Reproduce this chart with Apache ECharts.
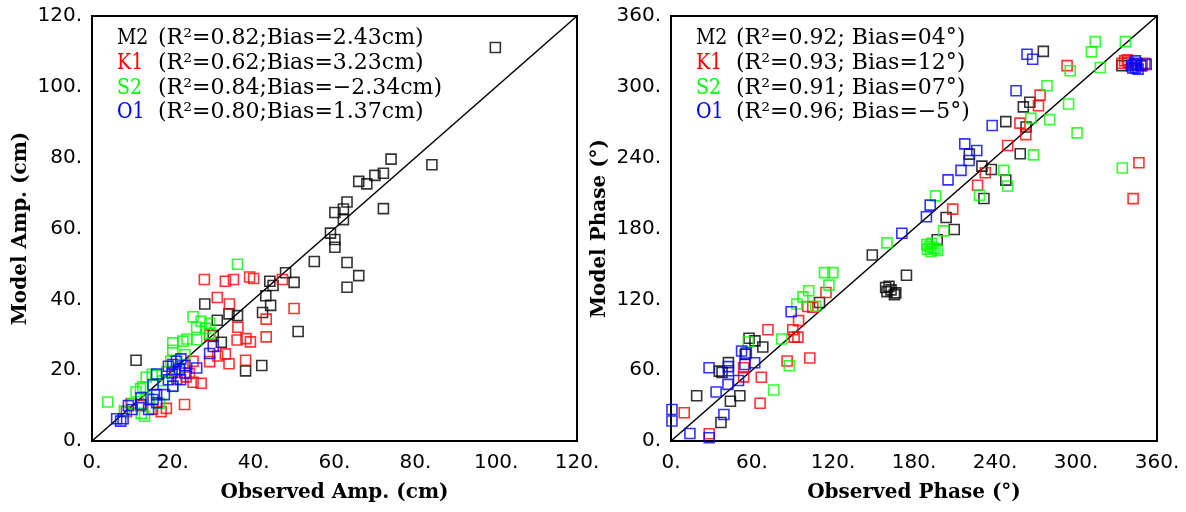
<!DOCTYPE html>
<html>
<head>
<meta charset="utf-8">
<script src="https://cdn.jsdelivr.net/npm/echarts@6/dist/echarts.min.js"></script>
<style>
html,body{margin:0;padding:0;background:#fff;}
#c{width:1186px;height:512px;}
</style>
</head>
<body>
<div id="c"></div>
<script>
// ---------------- DATA ----------------
// Amplitude (cm): [observed, model]
const ampM2 = [[99.8,111.1],[74.0,79.6],[84.1,78.0],[66.0,73.3],[68.0,72.6],[70.0,75.0],[72.1,75.6],[72.1,65.6],[63.1,67.5],[60.1,64.5],[62.2,65.5],[62.2,62.5],[59.0,58.7],[60.1,56.9],[60.1,54.7],[55.0,50.7],[63.1,50.4],[66.0,46.7],[63.1,43.4],[47.9,47.5],[50.0,44.8],[44.0,45.1],[44.8,43.9],[43.0,41.0],[44.2,38.3],[42.2,36.3],[51.0,30.9],[27.9,38.7],[31.0,34.1],[33.9,35.9],[36.0,35.4],[30.0,29.8],[32.0,27.9],[38.0,19.8],[42.0,21.3],[10.9,22.8]];
const ampK1 = [[27.8,45.6],[33.0,45.1],[35.0,45.6],[39.0,46.3],[40.0,45.9],[47.1,45.6],[31.0,40.5],[34.0,38.7],[50.0,37.4],[36.1,32.1],[43.1,34.4],[43.1,29.4],[35.9,28.5],[38.1,28.9],[39.2,28.0],[29.1,29.9],[33.0,24.6],[31.1,24.0],[33.9,21.8],[38.0,22.8],[29.1,22.4],[25.0,22.5],[25.0,16.6],[27.0,16.3],[22.9,10.3],[18.4,9.2],[17.1,8.3],[24.1,19.1],[23.3,18.1],[9.7,10.6],[8.5,8.3],[21.0,17.5],[20.5,19.5],[15.0,9.0],[12.0,10.0]];
const ampS2 = [[36.0,49.9],[25.0,35.1],[27.0,33.8],[29.1,33.2],[25.9,32.1],[28.1,31.8],[29.1,30.4],[23.5,28.8],[25.9,28.6],[20.0,27.7],[22.5,28.2],[20.0,25.6],[23.0,24.4],[19.5,22.5],[15.9,18.6],[13.4,18.0],[14.9,18.8],[12.6,15.3],[10.9,13.9],[12.0,14.8],[20.0,15.4],[17.5,17.0],[3.9,11.0],[12.2,7.8],[13.0,7.0],[16.7,10.6],[8.0,8.5],[10.0,10.5],[18.5,19.5],[21.5,20.5],[14.0,12.0]];
const ampO1 = [[30.0,26.7],[29.1,24.7],[25.9,20.6],[22.0,23.2],[20.9,22.5],[20.0,21.6],[18.9,21.1],[23.0,21.3],[21.7,20.2],[19.8,19.2],[21.9,17.3],[23.0,19.2],[18.9,17.3],[20.0,15.5],[16.0,18.9],[15.1,15.9],[16.0,13.1],[15.1,11.7],[17.9,13.1],[16.0,10.8],[12.1,12.2],[12.1,10.3],[14.0,8.9],[9.0,10.0],[9.9,8.9],[6.1,6.3],[7.1,5.6],[7.7,6.3]];

// Phase (deg): [observed, model]
const phM2 = [[275.8,330],[334,318],[265.8,287],[261,283],[248,270.5],[263,266],[258.7,243.3],[221,243],[230.3,232.8],[237.3,230],[248,221],[231.8,205.4],[203.8,189.3],[209.8,179.2],[197.2,170.5],[149.1,157.6],[174.4,140.4],[159,130],[161.5,131],[163,128],[160,126.5],[165.5,124],[166.5,125.5],[110,117.3],[57.8,87],[62.2,84.8],[68,79.6],[55,73.5],[42.5,66.4],[35.8,59.2],[37.8,58],[19,38.3],[51,38.3],[44,33.7],[37,15.7]];
const phK1 = [[293.4,318],[273.4,293],[272.2,284],[258.5,269.3],[262.8,259.5],[249.4,250.3],[232.8,227.2],[227.1,216.6],[208.7,196.4],[346.6,235.7],[342.3,205.3],[334,320],[336,322],[338,323],[339,320.5],[351,320],[349,318],[114.8,125.8],[101.3,113.9],[105,113.4],[94.5,102],[71.8,94.2],[90.2,94.2],[91.2,88],[94,88],[102.8,70.3],[86,67.8],[53.8,62],[53.8,54.3],[66.9,54],[66,32],[9.8,23.9],[28.3,6.2]];
const phS2 = [[336.6,338.3],[314.3,338.3],[311.4,329.6],[318,316.4],[295.7,313.6],[278.5,300.9],[294.5,285.4],[266.5,273.3],[280.5,272.2],[300.8,261],[268.5,242.4],[334.3,231.2],[246.5,229.2],[249.4,216],[228.5,208.1],[196,207.6],[202,178],[160,167.8],[189.5,166.5],[191.5,165],[193,167.5],[190,162.5],[192.5,160.5],[195.5,163],[197.5,161.5],[194,163.5],[113.7,142.6],[119.9,142.6],[117,132],[102,127.3],[97.7,122.1],[93.2,116],[107.1,114.2],[82,86.4],[57.3,83.8],[87.6,63.8],[76.1,43.2]];
const phO1 = [[263.7,327.6],[267.9,323.4],[255.6,296.7],[237.9,267.2],[217.6,251.7],[226.5,246.1],[220.8,237.6],[214.8,229.2],[205.2,221.2],[192,199.8],[189.2,190],[171,176],[89,109.5],[341,318],[343,319],[344,316],[345,320],[346,315],[348,318],[352,319],[344,322],[342,316],[28.2,62],[42.5,63],[42.5,59.5],[52.3,76.2],[55.8,74.5],[62,66.3],[54.8,64.8],[50,51.3],[42.2,48],[33.4,41.5],[39.2,22.4],[14,6.3],[0.7,26.7],[0.7,16.9],[28.3,2.8]];

const diagAmp = [[0,0],[120,120]];
const diagPhase = [[0,0],[360,360]];

const constituents = ['M2','K1','S2','O1'];
const colors = ['#000000','#ff0000','#00ff00','#0000ff'];
const ampStats = ['(R²=0.82;Bias=2.43cm)','(R²=0.62;Bias=3.23cm)','(R²=0.84;Bias=−2.34cm)','(R²=0.80;Bias=1.37cm)'];
const phaseStats = ['(R²=0.92; Bias=04°)','(R²=0.93; Bias=12°)','(R²=0.91; Bias=07°)','(R²=0.96; Bias=−5°)'];
const ampAxis = {min:0, max:120, interval:20, xName:'Observed Amp. (cm)', yName:'Model Amp. (cm)'};
const phaseAxis = {min:0, max:360, interval:60, xName:'Observed Phase (°)', yName:'Model Phase (°)'};

// ---------------- CHART ----------------
const chart = echarts.init(document.getElementById('c'), null, {renderer:'canvas'});
const tickFont = {fontFamily:'DejaVu Sans', fontSize:20, color:'#000'};
const titleFont = {fontFamily:'DejaVu Serif', fontWeight:'bold', fontSize:20, color:'#000'};

function xAx(ax, gi){
  return {type:'value', gridIndex:gi, min:ax.min, max:ax.max, interval:ax.interval,
    name:ax.xName, nameLocation:'middle', nameGap:42, nameTextStyle:titleFont,
    axisLine:{show:false}, axisTick:{show:false}, splitLine:{show:false},
    axisLabel:Object.assign({margin:12, formatter:v=>v+'.'}, tickFont)};
}
function yAx(ax, gi){
  return {type:'value', gridIndex:gi, min:ax.min, max:ax.max, interval:ax.interval,
    name:ax.yName, nameLocation:'middle', nameGap:61, nameTextStyle:titleFont,
    axisLine:{show:false}, axisTick:{show:false}, splitLine:{show:false},
    axisLabel:Object.assign({margin:10, formatter:v=>v+'.'}, tickFont)};
}
function sc(data, col, gi){
  return {type:'scatter', xAxisIndex:gi, yAxisIndex:gi, data:data, symbol:'rect', symbolSize:10,
    itemStyle:{color:'rgba(0,0,0,0)', borderColor:col, borderWidth:1.6}, z:3, silent:true};
}
function diag(data, gi){
  return {type:'line', xAxisIndex:gi, yAxisIndex:gi, data:data, symbol:'none',
    lineStyle:{color:'#000', width:1.5}, z:2, silent:true};
}

const graphics = [];
function legend(x0, xs, stats){
  const ys = [37, 62, 87, 111];
  constituents.forEach((n,i)=>{
    graphics.push({type:'text', x:x0, y:ys[i]-10, scaleX:0.86,
      style:{text:n, fill:colors[i], font:'22px "DejaVu Serif"'}});
    graphics.push({type:'text', x:xs, y:ys[i]-10,
      style:{text:stats[i], fill:'#000', font:'22px "DejaVu Serif"'}});
  });
}
legend(117, 158, ampStats);
legend(696, 736, phaseStats);

chart.setOption({
  animation:false,
  backgroundColor:'#fff',
  grid:[
    {left:92, top:16, width:485, height:425, show:true, borderColor:'#000', borderWidth:2, backgroundColor:'transparent'},
    {left:671, top:16, width:486, height:425, show:true, borderColor:'#000', borderWidth:2, backgroundColor:'transparent'}
  ],
  xAxis:[xAx(ampAxis,0), xAx(phaseAxis,1)],
  yAxis:[yAx(ampAxis,0), yAx(phaseAxis,1)],
  series:[
    diag(diagAmp,0),
    sc(ampM2,colors[0],0), sc(ampK1,colors[1],0), sc(ampS2,colors[2],0), sc(ampO1,colors[3],0),
    diag(diagPhase,1),
    sc(phM2,colors[0],1), sc(phK1,colors[1],1), sc(phS2,colors[2],1), sc(phO1,colors[3],1)
  ],
  graphic:graphics
});
</script>
</body>
</html>
